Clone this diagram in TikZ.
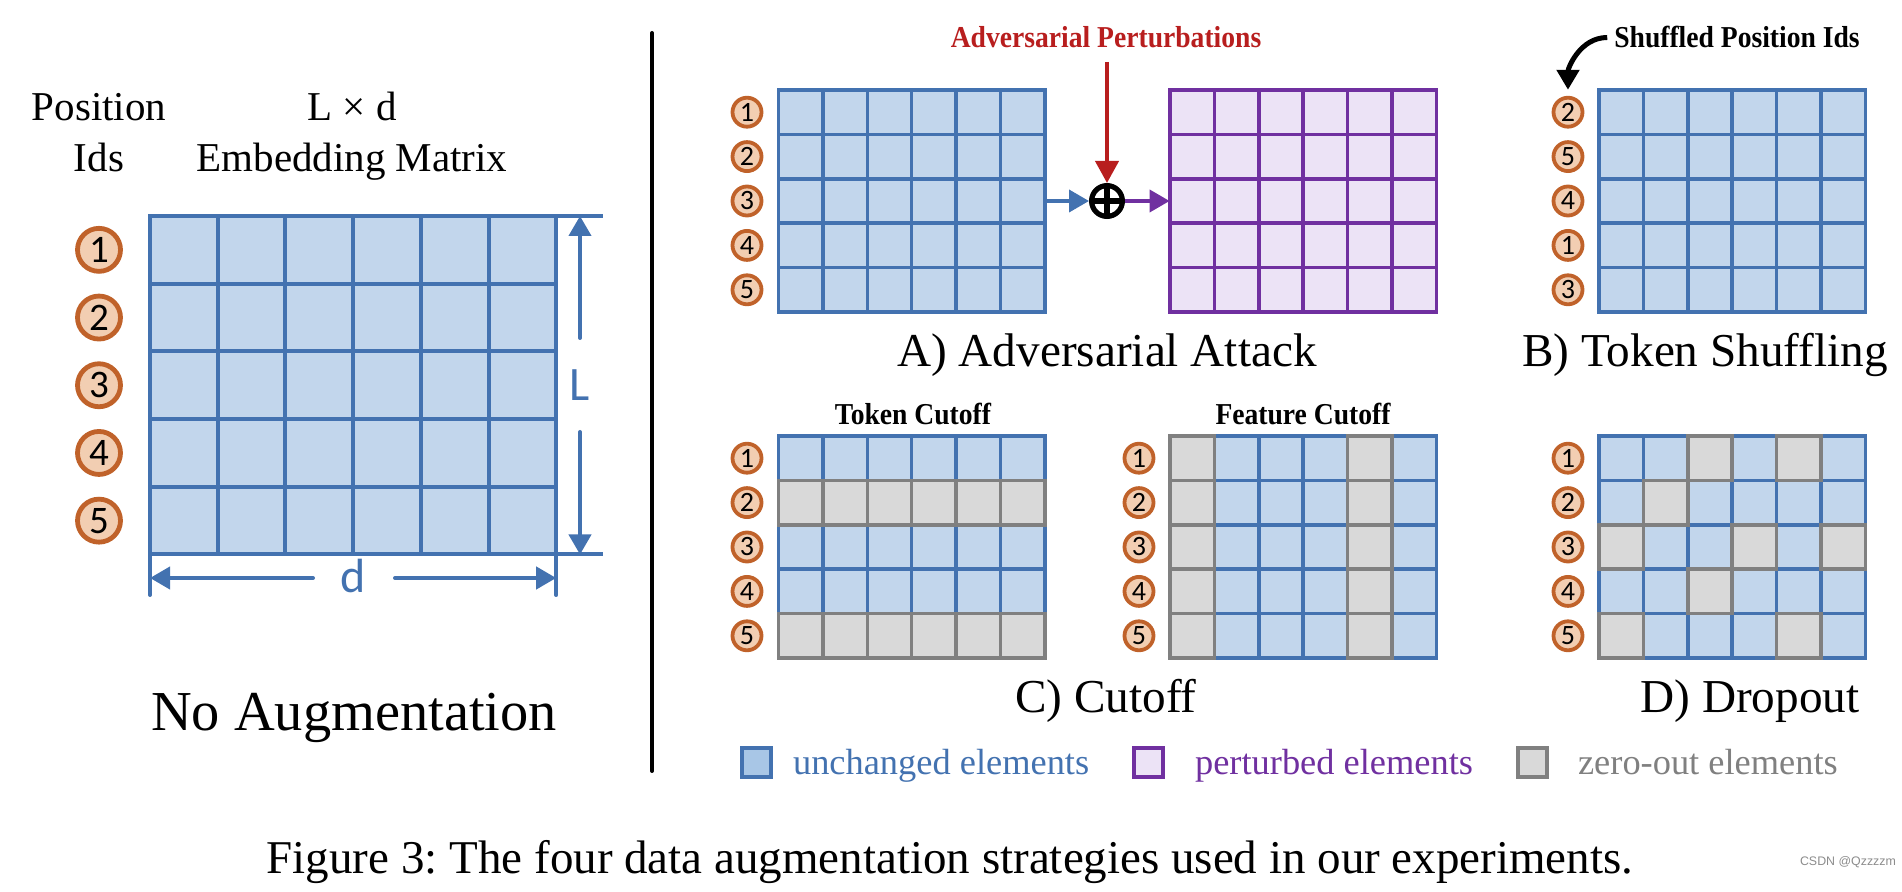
\documentclass[tikz,border=0pt]{standalone}
\usepackage{fontspec}
\setmainfont{Liberation Serif}
\newfontfamily\calib{Carlito}
\newfontfamily\wmfont{Liberation Sans}
\usetikzlibrary{arrows.meta}
\definecolor{bline}{RGB}{67,114,176}
\definecolor{bfill}{RGB}{194,214,236}
\definecolor{legb}{RGB}{168,198,230}
\definecolor{pline}{RGB}{112,48,160}
\definecolor{pfill}{RGB}{236,227,246}
\definecolor{gline}{RGB}{128,128,128}
\definecolor{gfill}{RGB}{217,217,217}
\definecolor{oring}{RGB}{192,98,42}
\definecolor{ofill}{RGB}{242,206,178}
\definecolor{advred}{RGB}{184,30,30}
\frenchspacing
\newcommand{\setfs}[1]{\fontsize{#1pt}{#1pt}\selectfont}
\newcommand{\drawgrid}[5]{%
  \foreach \rr in {0,...,4}{\foreach \cc in {0,...,5}{%
    \path[#4,line width=#5] ({#1+\cc*#3},{#2+\rr*#3}) rectangle ++(#3,#3);}}}
\newcommand{\graycells}[5]{%
  \foreach \rr/\cc in {#5}{%
    \path[gcell,line width=#4] ({#1+\cc*#3},{#2+\rr*#3}) rectangle ++(#3,#3);}}
\begin{document}
\begin{tikzpicture}[x=0.5pt,y=-0.5pt,
  bcell/.style={draw=bline,fill=bfill},
  pcell/.style={draw=pline,fill=pfill},
  gcell/.style={draw=gline,fill=gfill},
  bigid/.style={circle,draw=oring,fill=ofill,line width=2.4pt,minimum size=21.5pt,inner sep=0pt,font=\calib\setfs{19.5}},
  smallid/.style={circle,draw=oring,fill=ofill,line width=1.9pt,minimum size=14.5pt,inner sep=0pt,font=\calib\setfs{14}},
  dimarrow/.style={draw=bline,line width=2pt,-{Triangle[length=10pt,width=11pt]}},
  dimline/.style={draw=bline,line width=2pt},
  heading/.style={anchor=base,font=\setfs{20.5}},
  subtitle/.style={anchor=base,font=\setfs{23.6}},
  smallhead/.style={anchor=base,font=\bfseries\setfs{13.8},yscale=1.1},
  mat/.style={inner sep=0pt,minimum width=133.2pt,minimum height=111pt},
  legtext/.style={anchor=base west,font=\setfs{18.2}},
  legbox/.style={line width=2pt,minimum size=14.5pt,inner sep=0pt}
]
\useasboundingbox (0,0) rectangle (1902,892);

% ---------- left panel ----------
\node[heading] (posA) at (99,121) {Position};
\node[heading] (posB) at (99,172) {Ids};
\node[heading] (embA) at (352,121) {L × d};
\node[heading] (embB) at (352,172) {Embedding Matrix};

\drawgrid{150}{216}{67.7}{bcell}{2pt}
\foreach \n [count=\i from 0] in {1,...,5}
  \node[bigid] (L\n) at (99,{249.85+67.7*\i}) {\n};

\coordinate (tl) at (150,216);
\coordinate (tr) at (603,216);
\coordinate (bl) at (150,554.5);
\coordinate (br) at (603,554.5);
\coordinate (vl) at (150,595);
\coordinate (vr) at (556.2,595);
\coordinate (vrt) at (556.2,554.5);
\draw[dimline] (tl) -- (tr);
\draw[dimline] (bl) -- (br);
\draw[dimline,line cap=round] (bl) -- (vl);
\draw[dimline,line cap=round] (vrt) -- (vr);
\node[text=bline,font=\calib\setfs{24}] (Llab) at (580,385) {L};
\node[text=bline,font=\calib\setfs{24}] (dlab) at (353,576) {d};
\coordinate (Lup) at (580,338);
\coordinate (Ltop) at (580,216);
\coordinate (Ldn) at (580,432);
\coordinate (Lbot) at (580,554.5);
\coordinate (dl) at (313,578);
\coordinate (dlend) at (150,578);
\coordinate (dr) at (395,578);
\coordinate (drend) at (556.2,578);
\draw[dimarrow,line cap=round] (Lup) -- (Ltop);
\draw[dimarrow,line cap=round] (Ldn) -- (Lbot);
\draw[dimarrow,line cap=round] (dl) -- (dlend);
\draw[dimarrow,line cap=round] (dr) -- (drend);

\node[anchor=base,font=\setfs{28.2}] (noaug) at (354,731) {No Augmentation};

% divider
\coordinate (divt) at (652,33);
\coordinate (divb) at (652,771);
\draw[line width=2pt,line cap=round] (divt) -- (divb);

% ---------- A) adversarial ----------
\drawgrid{778.5}{90}{44.4}{bcell}{1.75pt}
\drawgrid{1170}{90}{44.4}{pcell}{1.75pt}
\node[mat] (Ablue) at (911.7,201) {};
\node[mat] (Apur) at (1303.2,201) {};
\foreach \n [count=\i from 0] in {1,...,5}
  \node[smallid] (A\n) at (747,{112.2+44.4*\i}) {\n};
\node[circle,draw,line width=2.6pt,minimum size=15.4pt,inner sep=0pt,
  path picture={\draw[line width=2.6pt] (path picture bounding box.north) -- (path picture bounding box.south)
  (path picture bounding box.west) -- (path picture bounding box.east);}] (oplus) at (1107,201) {};
\node[smallhead,text=advred] (adv) at (1106,48) {Adversarial Perturbations};
\coordinate (advstart) at (1107,62);
\draw[advred,line width=2pt,-{Triangle[length=11pt,width=11.5pt]}] (advstart) -- (oplus.north);
\draw[bline,line width=1.9pt,-{Triangle[length=10pt,width=11pt]}] (Ablue.east) -- (oplus.west);
\draw[pline,line width=1.9pt,-{Triangle[length=10pt,width=11pt]}] (oplus.east) -- (Apur.west);
\node[subtitle] (Atitle) at (1107,367) {A) Adversarial Attack};

% ---------- B) token shuffling ----------
\drawgrid{1599}{90}{44.4}{bcell}{1.75pt}
\node[mat] (Bmat) at (1732.2,201) {};
\foreach \n [count=\i from 0] in {2,5,4,1,3}
  \node[smallid] (B\n) at (1568,{112.2+44.4*\i}) {\n};
\node[smallhead] (shuf) at (1737,48) {Shuffled Position Ids};
\draw[line width=2.5pt,-{Triangle[length=10pt,width=11pt]},shorten >=3pt]
  (shuf.west) to[out=180,in=90] (B2.north);
\node[subtitle] (Btitle) at (1705,367) {B) Token Shuffling};

% ---------- C) cutoff ----------
\drawgrid{778.5}{436}{44.4}{bcell}{1.75pt}
\graycells{778.5}{436}{44.4}{1.75pt}{1/0,1/1,1/2,1/3,1/4,1/5,4/0,4/1,4/2,4/3,4/4,4/5}
\node[mat] (Ctok) at (911.7,547) {};
\foreach \n [count=\i from 0] in {1,...,5}
  \node[smallid] (C\n) at (747,{458.2+44.4*\i}) {\n};
\node[smallhead] (tokcut) at (913,425) {Token Cutoff};

\drawgrid{1170}{436}{44.4}{bcell}{1.75pt}
\graycells{1170}{436}{44.4}{1.75pt}{0/0,1/0,2/0,3/0,4/0,0/4,1/4,2/4,3/4,4/4}
\node[mat] (Cfeat) at (1303.2,547) {};
\foreach \n [count=\i from 0] in {1,...,5}
  \node[smallid] (F\n) at (1139,{458.2+44.4*\i}) {\n};
\node[smallhead] (featcut) at (1303,425) {Feature Cutoff};
\node[subtitle] (Ctitle) at (1106,713) {C) Cutoff};

% ---------- D) dropout ----------
\drawgrid{1599}{436}{44.4}{bcell}{1.75pt}
\graycells{1599}{436}{44.4}{1.75pt}{0/2,0/4,1/1,2/0,2/3,2/5,3/2,4/0,4/4}
\node[mat] (Dmat) at (1732.2,547) {};
\foreach \n [count=\i from 0] in {1,...,5}
  \node[smallid] (D\n) at (1568,{458.2+44.4*\i}) {\n};
\node[subtitle] (Dtitle) at (1750,713) {D) Dropout};

% ---------- legend ----------
\node[legbox,draw=bline,fill=legb] (legB) at (756.5,762.5) {};
\node[legtext,text=bline] (legBt) at (786,775) {unchanged elements};
\node[legbox,draw=pline,fill=pfill] (legP) at (1148.5,762.5) {};
\node[legtext,text=pline] (legPt) at (1188,775) {perturbed elements};
\node[legbox,draw=gline,fill=gfill] (legG) at (1532,762.5) {};
\node[legtext,text=gline] (legGt) at (1571,775) {zero-out elements};

% ---------- caption ----------
\node[anchor=base,font=\setfs{23.5}] (caption) at (950,873)
  {Figure 3: The four data augmentation strategies used in our experiments.};
\node[anchor=base,font=\wmfont\setfs{6.2},text=black!45] (wm) at (1848,865) {CSDN @Qzzzzm};
\end{tikzpicture}
\end{document}
